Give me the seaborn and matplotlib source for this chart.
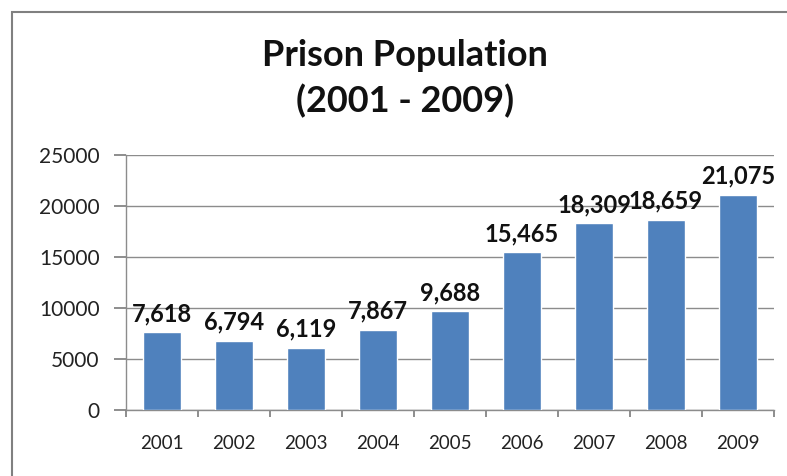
import matplotlib
matplotlib.use("Agg")
import matplotlib.pyplot as plt
import matplotlib.patches as mpatches
import seaborn as sns
import pandas as pd

years = ["2001", "2002", "2003", "2004", "2005", "2006", "2007", "2008", "2009"]
population = [7618, 6794, 6119, 7867, 9688, 15465, 18309, 18659, 21075]
y_ticks = [0, 5000, 10000, 15000, 20000, 25000]

sns.set_theme(style="white")
plt.rcParams["font.family"] = ["Lato", "DejaVu Sans"]

df = pd.DataFrame({"Year": years, "Population": population})

fig = plt.figure(figsize=(7.87, 4.76), dpi=100)
ax = fig.add_axes([126 / 787, 1 - 410 / 476, (774 - 126) / 787, (410 - 155) / 476])

# outer chart border
fig.patches.append(mpatches.Rectangle((12 / 787, -0.05), 1.2, 1 - 12 / 476 + 0.05,
                                      transform=fig.transFigure, fill=False,
                                      edgecolor="#808080", lw=1.5))

sns.barplot(data=df, x="Year", y="Population", color="#4F81BD", saturation=1,
            width=0.53, ax=ax, zorder=3)

ax.set_ylim(0, 25000)
ax.set_xlim(-0.5, len(years) - 0.5)
ax.set_yticks(y_ticks)
ax.set_yticklabels([str(t) for t in y_ticks], fontsize=15, color="#222222")
ax.set_xticks([i - 0.5 for i in range(len(years) + 1)], minor=False)
ax.set_xticklabels([])
ax.set_xticks(range(len(years)), minor=True)
ax.set_xticklabels(years, minor=True, fontsize=13.5, color="#222222")
ax.tick_params(axis="x", which="major", length=5, color="#808080", direction="out", bottom=True)
ax.tick_params(axis="x", which="minor", length=0, pad=18)
ax.tick_params(axis="y", length=9, color="#808080", direction="out", left=True, pad=10)
ax.grid(axis="y", color="#8c8c8c", lw=1, zorder=0)
ax.set_xlabel("")
ax.set_ylabel("")
for side in ["top", "right"]:
    ax.spines[side].set_visible(False)
for side in ["left", "bottom"]:
    ax.spines[side].set_color("#8c8c8c")
    ax.spines[side].set_linewidth(1)

for i, v in enumerate(population):
    ax.text(i, v + 700, f"{v:,}", ha="center", va="bottom", fontsize=17,
            fontweight="bold", color="#111111")

fig.text(405 / 787, 1 - 55 / 476, "Prison Population", ha="center", va="center",
         fontsize=26, fontweight="bold", color="#111111")
fig.text(405 / 787, 1 - 101 / 476, "(2001 - 2009)", ha="center", va="center",
         fontsize=26, fontweight="bold", color="#111111")

fig.savefig("out.png", dpi=100)
